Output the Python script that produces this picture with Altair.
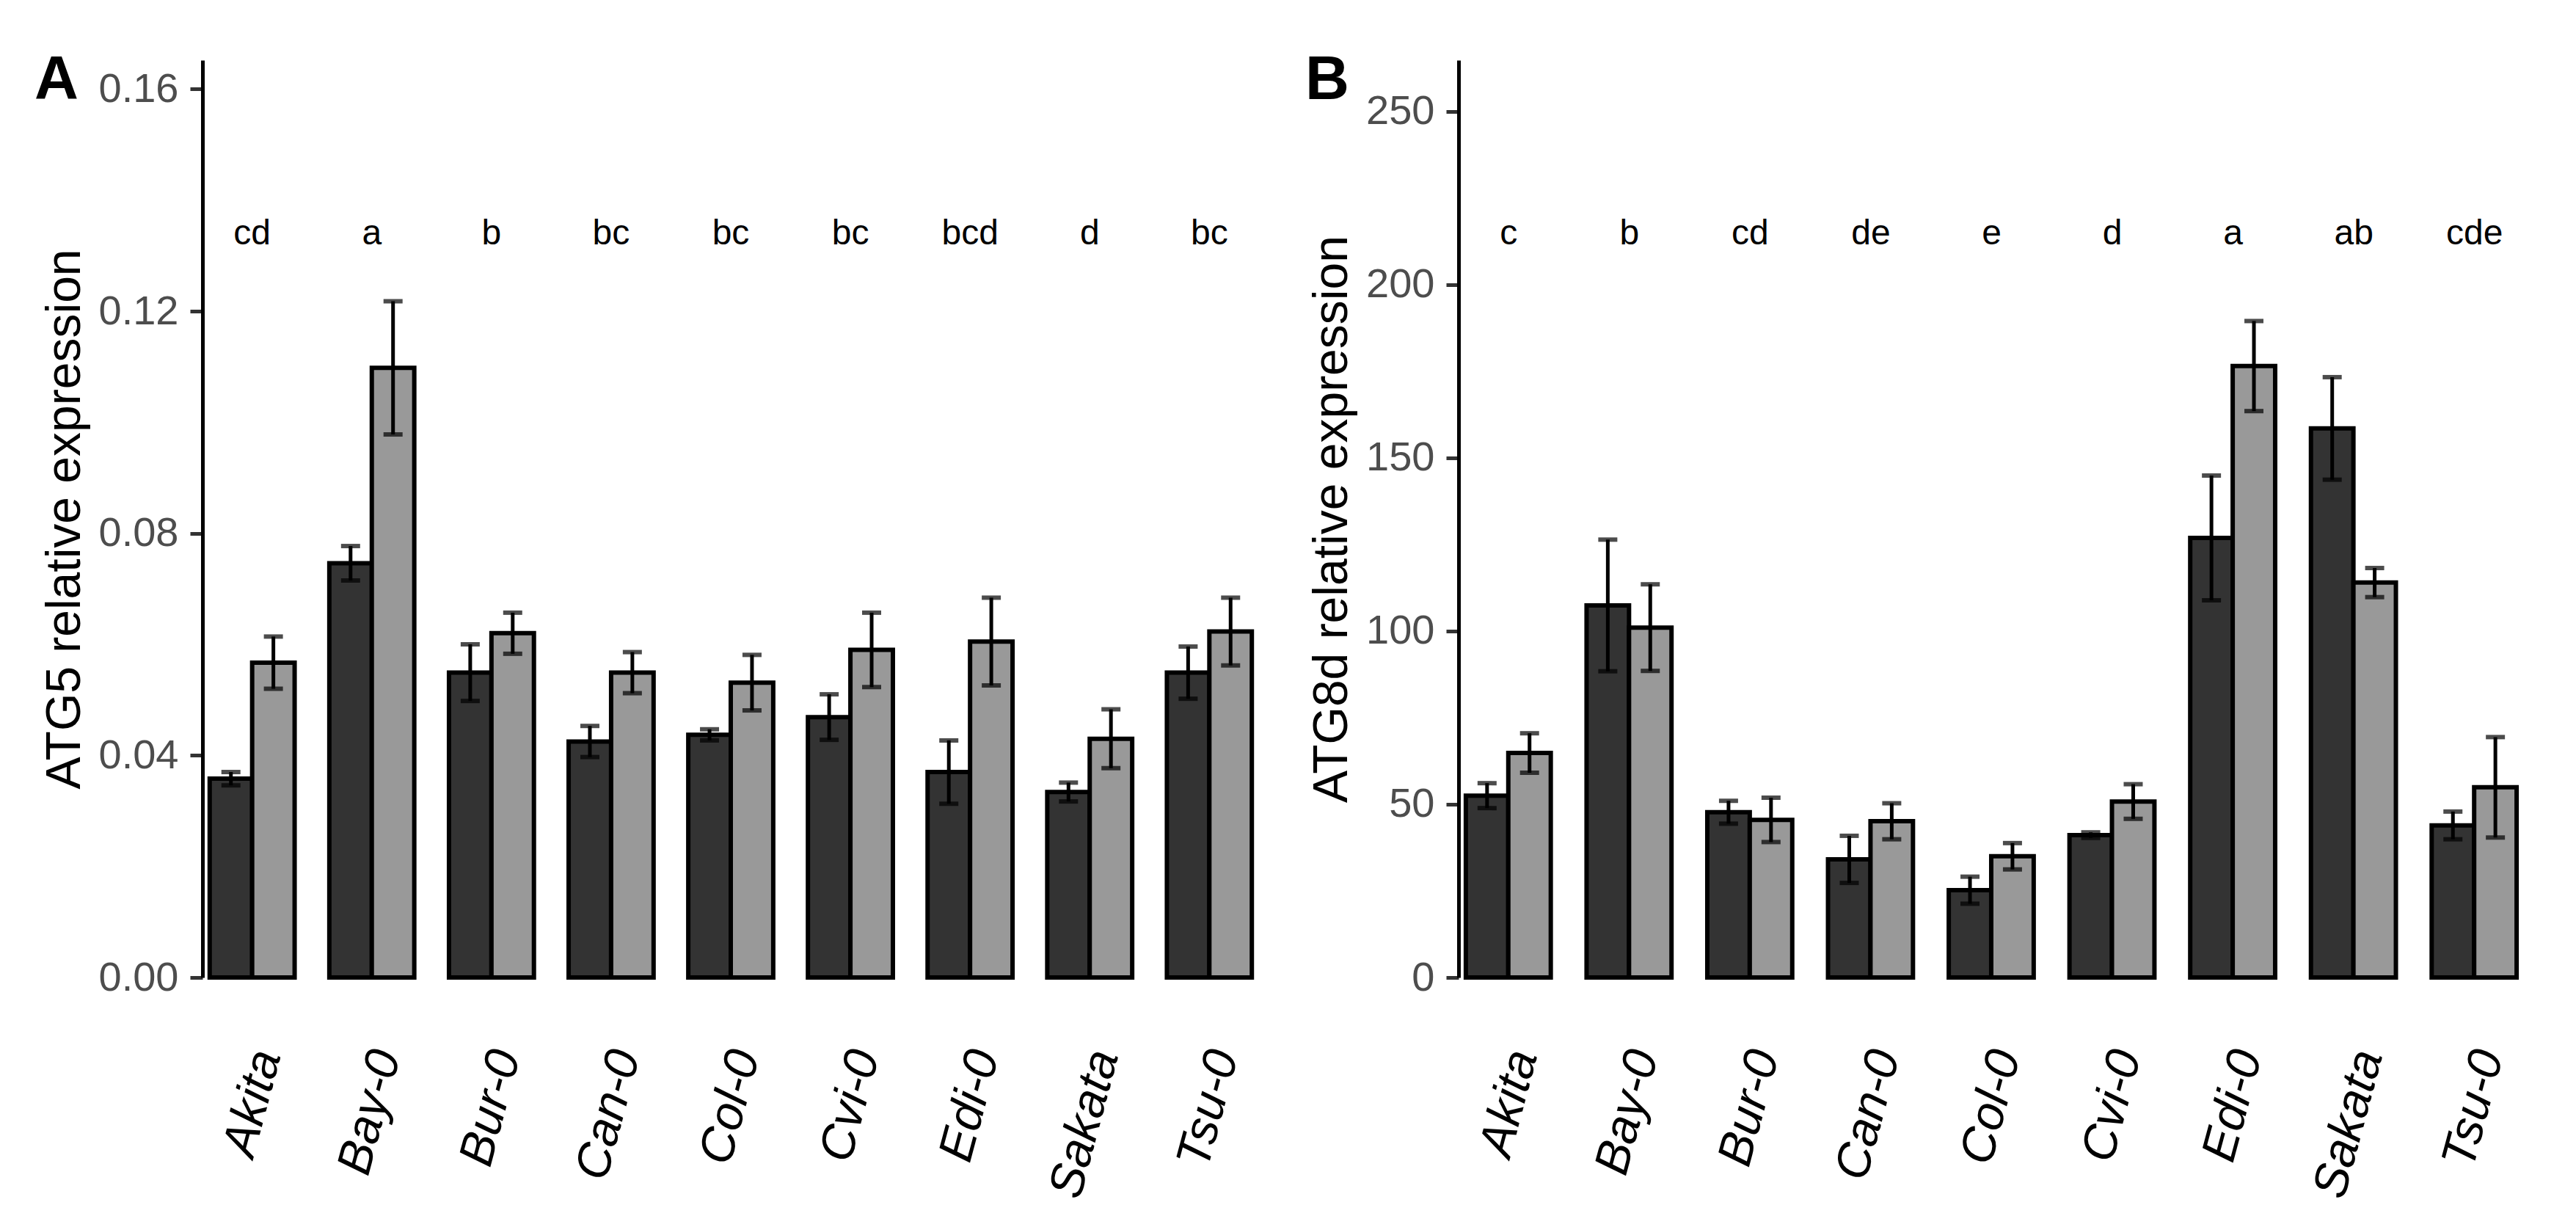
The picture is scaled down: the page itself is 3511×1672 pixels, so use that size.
import altair as alt
import pandas as pd

accessions = ["Akita", "Bay-0", "Bur-0", "Can-0", "Col-0", "Cvi-0", "Edi-0", "Sakata", "Tsu-0"]
conditions = ["Condition 1", "Condition 2"]

# Panel A: ATG5
atg5_c1 = [0.0358, 0.0746, 0.0549, 0.0425, 0.0437, 0.0469, 0.0370, 0.0334, 0.0549]
atg5_c1_err = [0.0012, 0.0031, 0.0051, 0.0028, 0.0010, 0.0041, 0.0057, 0.0017, 0.0047]
atg5_c2 = [0.0567, 0.1098, 0.0620, 0.0549, 0.0531, 0.0590, 0.0605, 0.0430, 0.0623]
atg5_c2_err = [0.0047, 0.0120, 0.0037, 0.0037, 0.0050, 0.0067, 0.0079, 0.0053, 0.0061]
atg5_letters = ["cd", "a", "b", "bc", "bc", "bc", "bcd", "d", "bc"]

# Panel B: ATG8d
atg8_c1 = [52.5, 107.4, 47.7, 34.1, 25.2, 41.1, 126.9, 158.5, 43.9]
atg8_c1_err = [3.6, 19.0, 3.3, 6.8, 3.9, 0.8, 18.0, 14.8, 4.0]
atg8_c2 = [64.8, 101.0, 45.5, 45.1, 35.0, 50.8, 176.5, 114.0, 54.9]
atg8_c2_err = [5.7, 12.5, 6.4, 5.2, 3.8, 5.0, 13.0, 4.2, 14.5]
atg8_letters = ["c", "b", "cd", "de", "e", "d", "a", "ab", "cde"]

FONT = "Liberation Sans"


def make_df(m1, e1, m2, e2):
    rows = []
    for i, acc in enumerate(accessions):
        for cond, m, e in ((conditions[0], m1[i], e1[i]), (conditions[1], m2[i], e2[i])):
            rows.append({"accession": acc, "condition": cond, "mean": m, "lo": m - e, "hi": m + e})
    return pd.DataFrame(rows)


def panel(df, letters, letter_y, ytitle, ymax, yvals, yfmt, tag, tag_dx, width):
    xdef = alt.X(
        "accession:N",
        sort=accessions,
        title=None,
        scale=alt.Scale(paddingInner=0.29, paddingOuter=0.06),
        axis=alt.Axis(
            labelAngle=-75, labelAlign="right", labelBaseline="middle",
            labelFont=FONT, labelFontStyle="italic", labelFontSize=66,
            labelColor="black", domain=False, ticks=False, labelLimit=0,
            labelPadding=100, labelOffset=20,
        ),
    )
    xoff = alt.XOffset("condition:N", sort=conditions,
                       scale=alt.Scale(paddingInner=0, paddingOuter=0))
    yscale = alt.Scale(domain=[0, ymax], nice=False, zero=True)
    yaxis = alt.Axis(
        values=yvals, format=yfmt, grid=False,
        labelFont=FONT, labelFontSize=56, labelColor="#4D4D4D", labelPadding=16,
        tickSize=17, tickWidth=5, tickColor="#333333",
        domainColor="black", domainWidth=5,
        titleFont=FONT, titleFontSize=66, titleFontWeight="normal",
        titleColor="black", titlePadding=12,
    )
    bars = alt.Chart(df).mark_bar(stroke="black", strokeWidth=6).encode(
        x=xdef, xOffset=xoff,
        y=alt.Y("mean:Q", scale=yscale, axis=yaxis, title=ytitle),
        color=alt.Color("condition:N", sort=conditions,
                        scale=alt.Scale(domain=conditions, range=["#333333", "#999999"]),
                        legend=None),
    )
    rules = alt.Chart(df).mark_rule(color="black", strokeWidth=5).encode(
        x=xdef, xOffset=xoff,
        y=alt.Y("lo:Q", scale=yscale, axis=yaxis, title=ytitle), y2="hi:Q",
    )
    cap_lo = alt.Chart(df).mark_tick(color="black", orient="horizontal", size=26, thickness=6).encode(
        x=xdef, xOffset=xoff, y=alt.Y("lo:Q", scale=yscale, axis=yaxis, title=ytitle),
    )
    cap_hi = alt.Chart(df).mark_tick(color="black", orient="horizontal", size=26, thickness=6).encode(
        x=xdef, xOffset=xoff, y=alt.Y("hi:Q", scale=yscale, axis=yaxis, title=ytitle),
    )
    ldf = pd.DataFrame({"accession": accessions, "letter": letters, "ly": [letter_y] * len(accessions)})
    text = alt.Chart(ldf).mark_text(font=FONT, fontSize=48, color="black", baseline="alphabetic").encode(
        x=xdef, y=alt.Y("ly:Q", scale=yscale, axis=yaxis, title=ytitle), text="letter:N",
    )
    tagc = alt.Chart(pd.DataFrame({"t": [tag]})).mark_text(
        font=FONT, fontSize=83, fontWeight="bold", color="black", align="left", baseline="top",
    ).encode(x=alt.value(tag_dx), y=alt.value(-13), text="t:N")
    return alt.layer(bars, rules, cap_lo, cap_hi, text, tagc).properties(width=width, height=1250)


dfA = make_df(atg5_c1, atg5_c1_err, atg5_c2, atg5_c2_err)
dfB = make_df(atg8_c1, atg8_c1_err, atg8_c2, atg8_c2_err)

pA = panel(dfA, atg5_letters, 0.132, "ATG5 relative expression", 0.1652,
           [0, 0.04, 0.08, 0.12, 0.16], ".2f", "A", -229, 1440)
pB = panel(dfB, atg8_letters, 211.7, "ATG8d relative expression", 264.8,
           [0, 50, 100, 150, 200, 250], "d", "B", -209, 1453)

chart = alt.hconcat(pA, pB, spacing=63).resolve_scale(y="independent", color="shared").properties(
    padding={"left": 39, "top": 61, "right": 0, "bottom": 0},
    background="white",
).configure_view(stroke=None)

chart.save("out.html", embed_options={"renderer": "svg", "actions": False})
